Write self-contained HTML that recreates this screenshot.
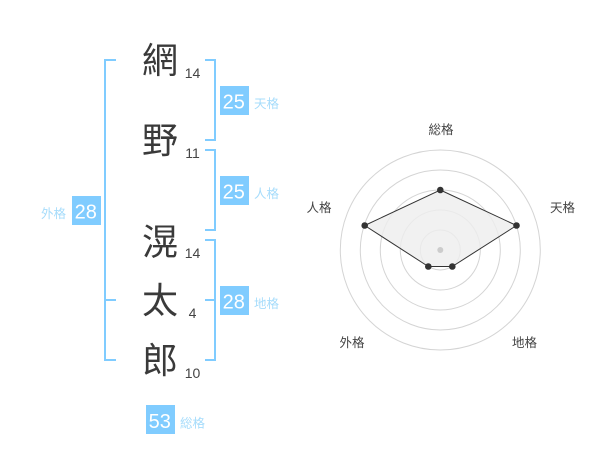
<!DOCTYPE html>
<html><head><meta charset="utf-8"><style>
html,body{margin:0;padding:0;background:#fff}
svg{display:block}
text{font-family:"Liberation Sans","WenQuanYi Zen Hei",sans-serif}
.k{font-size:36px;fill:#3a3a3a;text-anchor:middle}
.n{font-size:14px;fill:#444;text-anchor:middle}
.b{font-size:20px;fill:#fff;text-anchor:middle}
.l{font-size:12.5px;fill:#a6dcfb}
.r{font-size:12.5px;fill:#444;text-anchor:middle}
</style></head><body>
<svg width="600" height="470" viewBox="0 0 600 470" xmlns="http://www.w3.org/2000/svg">
<g fill="none" stroke="#80ccff" stroke-width="2">
<path d="M116 60H105V360H116M105 300H116"/>
<path d="M205 60H215V140H205"/>
<path d="M205 150H215V230H205"/>
<path d="M205 240H215V360H205M205 300H215"/>
</g>
<text class="k" x="160" y="73">網</text>
<text class="k" x="160" y="153">野</text>
<text class="k" x="160" y="254.5">滉</text>
<text class="k" x="160" y="313">太</text>
<text class="k" x="160" y="373">郎</text>
<text class="n" x="192.5" y="78">14</text>
<text class="n" x="192.5" y="158">11</text>
<text class="n" x="192.5" y="258">14</text>
<text class="n" x="192.5" y="318">4</text>
<text class="n" x="192.5" y="378">10</text>
<g fill="#80ccff">
<rect x="220" y="86" width="29" height="29"/>
<rect x="220" y="176" width="29" height="29"/>
<rect x="72" y="196" width="29" height="29"/>
<rect x="220" y="286" width="29" height="29"/>
<rect x="146" y="405" width="29" height="29"/>
</g>
<text class="b" x="233.8" y="108.5">25</text>
<text class="b" x="233.8" y="198.5">25</text>
<text class="b" x="85.8" y="218.5">28</text>
<text class="b" x="233.8" y="308.5">28</text>
<text class="b" x="159.8" y="428">53</text>
<text class="l" x="254" y="108">天格</text>
<text class="l" x="254" y="198">人格</text>
<text class="l" x="41" y="218">外格</text>
<text class="l" x="254" y="308">地格</text>
<text class="l" x="180" y="427.5">総格</text>
<g fill="none" stroke="#d4d4d4" stroke-width="1">
<circle cx="440.3" cy="250" r="20"/>
<circle cx="440.3" cy="250" r="40"/>
<circle cx="440.3" cy="250" r="60"/>
<circle cx="440.3" cy="250" r="80"/>
<circle cx="440.3" cy="250" r="100"/>
</g>
<polygon points="440.3,190 516.5,225.5 452.3,266.5 428.3,266.5 364.7,225.5" fill="#eee" fill-opacity=".8" stroke="#333" stroke-width="1"/>
<circle cx="440.3" cy="250" r="3" fill="#ccc"/>
<g fill="#333">
<circle cx="440.3" cy="190" r="3.3"/>
<circle cx="516.5" cy="225.5" r="3.3"/>
<circle cx="452.3" cy="266.5" r="3.3"/>
<circle cx="428.3" cy="266.5" r="3.3"/>
<circle cx="364.7" cy="225.5" r="3.3"/>
</g>
<text class="r" x="441" y="134">総格</text>
<text class="r" x="562.5" y="212">天格</text>
<text class="r" x="319" y="212">人格</text>
<text class="r" x="352" y="347">外格</text>
<text class="r" x="524.5" y="347">地格</text>
</svg>
</body></html>
